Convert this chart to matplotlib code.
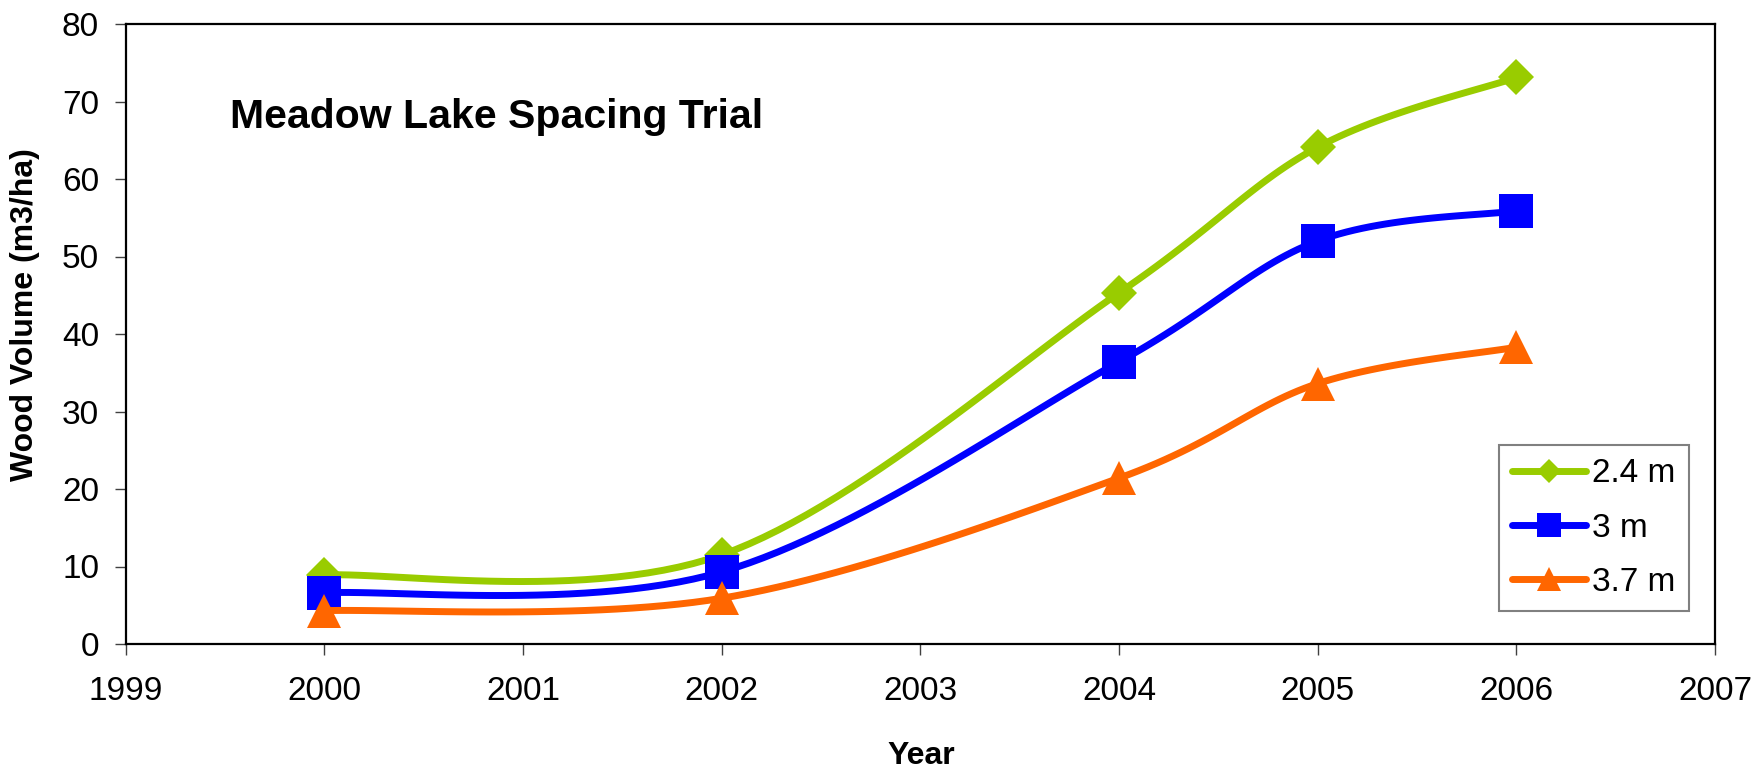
import numpy as np
import matplotlib
matplotlib.use("Agg")
import matplotlib.pyplot as plt
from matplotlib.lines import Line2D

plt.rcParams['font.family'] = ['Liberation Sans', 'DejaVu Sans']

# ---- data ----
years = [2000, 2002, 2004, 2005, 2006]
series_names = ["2.4 m", "3 m", "3.7 m"]
vol_24 = [8.9, 11.5, 45.3, 64.1, 73.1]
vol_30 = [6.6, 9.3, 36.4, 52.0, 55.9]
vol_37 = [4.3, 5.9, 21.4, 33.6, 38.3]
colors = ["#99CC00", "#0000FF", "#FF6600"]
markers = ["D", "s", "^"]
msizes = [18, 25, 25]
leg_msizes = [12, 17, 17]

x_ticks = list(range(1999, 2008))
y_ticks = list(range(0, 81, 10))


def excel_smooth(xs, ys, n=30):
    """Excel-style smoothed line: cubic Bezier with Catmull-Rom control points."""
    xs = np.asarray(xs, float)
    ys = np.asarray(ys, float)
    P = np.column_stack([xs, ys])
    pts = []
    m = len(P)
    for i in range(m - 1):
        p0 = P[i - 1] if i > 0 else P[i]
        p1 = P[i]
        p2 = P[i + 1]
        p3 = P[i + 2] if i + 2 < m else P[i + 1]
        c1 = p1 + (p2 - p0) / 6.0
        c2 = p2 - (p3 - p1) / 6.0
        t = np.linspace(0, 1, n)[:, None]
        seg = ((1 - t) ** 3) * p1 + 3 * ((1 - t) ** 2) * t * c1 + 3 * (1 - t) * t ** 2 * c2 + t ** 3 * p2
        if i > 0:
            seg = seg[1:]
        pts.append(seg)
    pts = np.vstack(pts)
    return pts[:, 0], pts[:, 1]


fig = plt.figure(figsize=(17.62, 7.69), dpi=100)
ax = fig.add_axes([125.5 / 1762, 125 / 769, (1715 - 125.5) / 1762, 620 / 769])

lw = 5
handles = []
for vals, c, mk, ms, lms, name in zip([vol_24, vol_30, vol_37], colors, markers, msizes,
                                      leg_msizes, series_names):
    sx, sy = excel_smooth(years, vals)
    ax.plot(sx, sy, color=c, lw=lw, solid_capstyle='round', solid_joinstyle='round')
    ax.plot(years, vals, linestyle='none', marker=mk, markersize=ms, color=c, markeredgewidth=0)
    handles.append(Line2D([], [], color=c, lw=lw, marker=mk, markersize=lms,
                          markeredgewidth=0, solid_capstyle='round', label=name))

ax.set_xlim(1999, 2007)
ax.set_ylim(0, 80)
ax.set_xticks(x_ticks)
ax.set_yticks(y_ticks)
ax.tick_params(axis='both', direction='out', length=8, width=1.0, color='#404040',
               labelsize=24, labelcolor='black')
ax.tick_params(axis='y', pad=11)
ax.tick_params(axis='x', pad=15)
for sp in ax.spines.values():
    sp.set_color('black')
    sp.set_linewidth(1.6)

ax.text(0.0657, 0.8327, "Meadow Lake Spacing Trial", transform=ax.transAxes,
        fontsize=29.5, fontweight='bold', ha='left', va='baseline')

fig.text(25 / 1762, 1 - 314.5 / 769, "Wood Volume (m3/ha)", rotation=90,
         fontsize=23, fontweight='bold', ha='center', va='center')
fig.text(0.523, (769 - 764) / 769, "Year", fontsize=23, fontweight='bold',
         ha='center', va='baseline')

leg = ax.legend(handles=handles, loc='upper left',
                bbox_to_anchor=((1499 - 125.5) / 1589.5, (644 - 445) / 620),
                borderaxespad=0, fontsize=24, numpoints=1, handlelength=2.2,
                handletextpad=0.2, labelspacing=0.7, borderpad=0.4,
                fancybox=False, framealpha=1, edgecolor='#808080')
leg.get_frame().set_linewidth(1.5)

fig.savefig("out.png", dpi=100, facecolor='white')
